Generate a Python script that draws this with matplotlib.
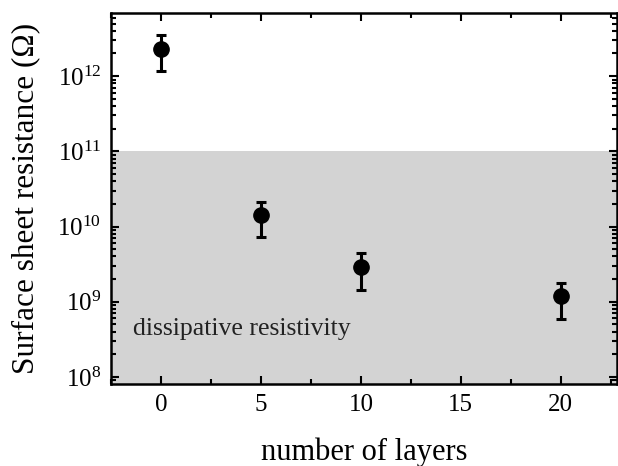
import matplotlib
matplotlib.use("Agg")
import matplotlib.pyplot as plt
import numpy as np
from matplotlib.ticker import LogLocator, MultipleLocator, NullFormatter

plt.rcParams['font.family'] = ['Liberation Serif', 'DejaVu Serif']
plt.rcParams['mathtext.fontset'] = 'custom'
plt.rcParams['mathtext.rm'] = 'Liberation Serif'

layers = [0, 5, 10, 20]
resistance = [2.3e12, 1.43e10, 2.9e9, 1.2e9]
err_upper = [3.5e12, 2.1e10, 4.4e9, 1.8e9]
err_lower = [1.17e12, 7.2e9, 1.45e9, 5.9e8]
shade_top = 1e11
label_text = "dissipative resistivity"

fig = plt.figure(figsize=(6.18, 4.66), dpi=100)
ax = fig.add_axes([0.1796, 0.176, 0.8184, 0.796])

ax.set_yscale('log')
ax.set_xlim(-2.5, 22.8)
ax.set_ylim(8.07e7, 6.9e12)

ax.axhspan(8.07e7 / 10, shade_top, color='#d3d3d3', zorder=0, lw=0)

yerr = [np.array(resistance) - np.array(err_lower), np.array(err_upper) - np.array(resistance)]
ax.errorbar(layers, resistance, yerr=yerr, fmt='o', color='black', ms=11,
            capsize=3.8, elinewidth=2.2, capthick=2.2, zorder=3)

ax.text(-1.4, 4.4e8, label_text, fontsize=18.5, va='center', ha='left', color='#222222')

ax.xaxis.set_major_locator(MultipleLocator(5))
ax.xaxis.set_minor_locator(MultipleLocator(2.5))
ax.yaxis.set_major_locator(LogLocator(base=10, numticks=20))
ax.yaxis.set_minor_locator(LogLocator(base=10, subs=np.arange(2, 10), numticks=20))
ax.yaxis.set_minor_formatter(NullFormatter())

ax.tick_params(which='both', direction='in', top=True, right=True, width=1.5)
ax.tick_params(which='major', length=6, labelsize=18, pad=7)
ax.tick_params(which='minor', length=3.5)
for s in ax.spines.values():
    s.set_linewidth(1.8)

ax.set_xlabel('number of layers', fontsize=22, labelpad=16)
ax.set_ylabel('Surface sheet resistance (Ω)', fontsize=22.5, labelpad=12)

fig.savefig('out.png', dpi=100)
